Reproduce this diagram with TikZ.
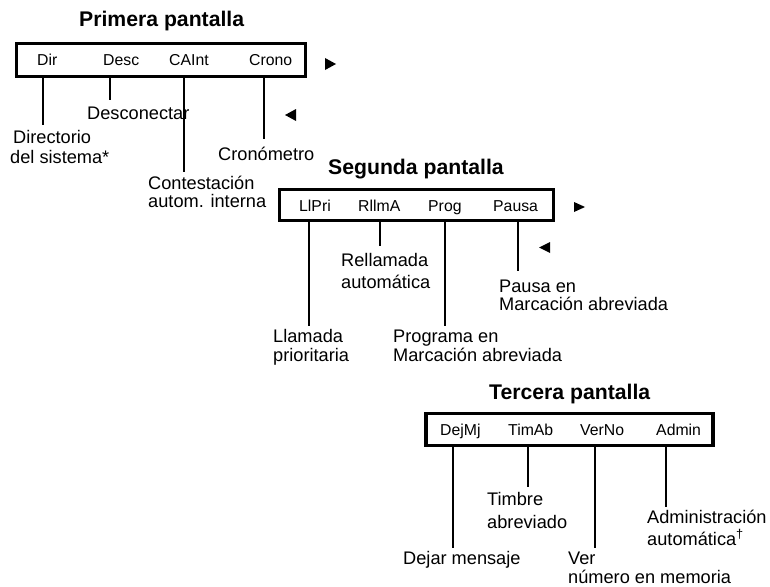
\documentclass[tikz,border=0pt]{standalone}
\usepackage{fontspec}
\setmainfont{Liberation Sans}
\tikzset{
  screenbox/.style={draw=black,line width=3.2pt,inner sep=0pt,outer sep=0pt},
  lead/.style={draw=black,line width=2pt},
  ttl/.style={anchor=base west,inner sep=0pt,font=\fontsize{21.2}{24}\selectfont\bfseries},
  key/.style={anchor=base west,inner sep=0pt,font=\fontsize{15.8}{18}\selectfont},
  lbl/.style={anchor=base west,inner sep=0pt,align=left,font=\fontsize{18.2}{20}\selectfont},
  tri/.style={fill=black,draw=none}
}
\begin{document}
\begin{tikzpicture}[x=1pt,y=-1pt]
\useasboundingbox (0,0) rectangle (770,586);
% titles
\node[ttl] (t1) at (79,27) {Primera pantalla};
\node[ttl] (t2) at (328,174) {Segunda pantalla};
\node[ttl] (t3) at (489,399) {Tercera pantalla};
% boxes
\node[screenbox,minimum width=289pt,minimum height=33pt] (b1) at (161,60) {};
\node[screenbox,minimum width=274pt,minimum height=31pt] (b2) at (416.5,205) {};
\node[screenbox,minimum width=287pt,minimum height=32pt] (b3) at (569.5,429.5) {};
% soft keys
\node[key] (k11) at (37,65) {Dir};
\node[key] (k12) at (103,65) {Desc};
\node[key] (k13) at (169,65) {CAInt};
\node[key] (k14) at (249,65) {Crono};
\node[key] (k21) at (299,211) {LlPri};
\node[key] (k22) at (358,211) {RllmA};
\node[key] (k23) at (428,211) {Prog};
\node[key] (k24) at (493,211) {Pausa};
\node[key] (k31) at (440,435) {DejMj};
\node[key] (k32) at (508,435) {TimAb};
\node[key] (k33) at (580,435) {VerNo};
\node[key] (k34) at (656,435) {Admin};
% connector ends
\coordinate (e11) at (43,125);
\coordinate (e12) at (110,100);
\coordinate (e13) at (184,172);
\coordinate (e14) at (264,139);
\coordinate (e21) at (309,326);
\coordinate (e22) at (380,246);
\coordinate (e23) at (445,326);
\coordinate (e24) at (518,271);
\coordinate (e31) at (453,548);
\coordinate (e32) at (528,487);
\coordinate (e33) at (595,548);
\coordinate (e34) at (666,507);
\foreach \b/\k in {1/1,1/2,1/3,1/4,2/1,2/2,2/3,2/4,3/1,3/2,3/3,3/4}
  \draw[lead] (e\b\k |- b\b.south) -- (e\b\k);
% labels (base = last line)
\node[lbl] (l11) at (10,163) {\hspace*{3pt}Directorio\\[0pt]del sistema*};
\node[lbl] (l12) at (87,119) {Desconectar};
\node[lbl] (l13) at (148,207) {Contestación\\[-2pt]autom. interna};
\node[lbl] (l14) at (218,160) {Cronómetro};
\node[lbl] (l21) at (273,361) {Llamada\\[-1pt]prioritaria};
\node[lbl] (l22) at (341,288) {Rellamada\\[2pt]automática};
\node[lbl] (l23) at (393,361) {Programa en\\[-1pt]Marcación abreviada};
\node[lbl] (l24) at (499,310) {Pausa en\\[-2pt]Marcación abreviada};
\node[lbl] (l31) at (403,564) {Dejar mensaje};
\node[lbl] (l32) at (487,528) {Timbre\\[3pt]abreviado};
\node[lbl] (l33) at (568,583) {Ver\\[-1pt]número en memoria};
\node[lbl] (l34) at (647,545) {Administración\\[2pt]automática\textsuperscript{†}};
% arrows
\fill[tri] (325,58) -- (336,64) -- (325,70) -- cycle;
\fill[tri] (296,109) -- (285,115) -- (296,121) -- cycle;
\fill[tri] (574,202) -- (585,207) -- (574,212) -- cycle;
\fill[tri] (550,242) -- (539,247.5) -- (550,253) -- cycle;
\end{tikzpicture}
\end{document}
